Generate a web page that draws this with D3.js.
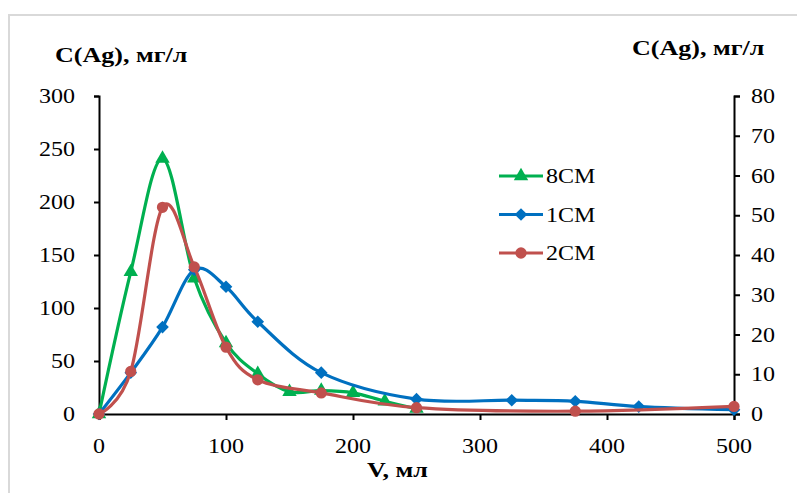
<!DOCTYPE html>
<html>
<head>
<meta charset="utf-8">
<script src="https://cdn.jsdelivr.net/npm/d3@7"></script>
<style>
  body { margin: 0; background: #fff; }
  text { font-family: "Liberation Serif", "Times New Roman", serif; fill: #000; }
</style>
</head>
<body>
<div class="graph-container"></div>
<script>
// data
var v8 = [0, 25, 50, 75, 100, 125, 150, 175, 200, 225, 250];
var c8 = [0, 134, 241, 128, 67, 38, 21, 22, 20, 12, 5];

var v1 = [0, 25, 50, 75, 100, 125, 175, 250, 325, 375, 425, 500];
var c1 = [0, 39, 82, 136, 120, 87, 39, 14, 13, 12, 7, 4];

// 2CM is on the secondary (right) axis
var v2 = [0, 25, 50, 75, 100, 125, 175, 250, 375, 500];
var c2 = [0, 10.7, 52, 37, 16.8, 8.6, 5.3, 1.6, 0.7, 1.9];

var xTicks = [0, 100, 200, 300, 400, 500];
var yLeftTicks = [0, 50, 100, 150, 200, 250, 300];
var yRightTicks = [0, 10, 20, 30, 40, 50, 60, 70, 80];

var legendNames = ["8CM", "1CM", "2CM"];

window.addEventListener("load", function(){
  var W = 797, H = 493;

  var svg = d3.select(".graph-container").append("svg")
    .attr("width", W)
    .attr("height", H);

  // outer frame, runs off the right and bottom edge
  svg.append("rect")
    .attr("x", 9).attr("y", 15)
    .attr("width", W).attr("height", H)
    .attr("fill", "none")
    .attr("stroke", "#d9d9d9")
    .attr("stroke-width", 2);

  var x = d3.scaleLinear().domain([0, 500]).range([99, 734]);
  var yL = d3.scaleLinear().domain([0, 300]).range([414, 96]);
  var yR = d3.scaleLinear().domain([0, 80]).range([414, 96]);

  // text in the picture is a bit wide, so stretch it
  function wideText(g, px, py, str, anchor, size, weight, sx) {
    return g.append("text")
      .attr("transform", "translate(" + px + "," + py + ") scale(" + (sx || 1.2) + ",1)")
      .attr("text-anchor", anchor)
      .attr("font-size", size)
      .attr("font-weight", weight || "normal")
      .text(str);
  }

  // axes
  var axisG = svg.append("g");

  var xAxis = axisG.append("g")
    .attr("transform", "translate(0," + yL(0) + ")")
    .call(d3.axisBottom(x).tickValues(xTicks).tickSize(6).tickFormat(""));
  var yAxisL = axisG.append("g")
    .attr("transform", "translate(" + x(0) + ",0)")
    .call(d3.axisLeft(yL).tickValues(yLeftTicks).tickSize(5).tickFormat(""));
  var yAxisR = axisG.append("g")
    .attr("transform", "translate(" + x(500) + ",0)")
    .call(d3.axisRight(yR).tickValues(yRightTicks).tickSize(6).tickFormat(""));

  [xAxis, yAxisL, yAxisR].forEach(function(a) {
    a.select(".domain").attr("stroke", "#000").attr("stroke-width", 2);
    a.selectAll(".tick line").attr("stroke", "#000").attr("stroke-width", 2);
  });

  xTicks.forEach(function(t) {
    wideText(svg, x(t), 453, t, "middle", 20);
  });
  yLeftTicks.forEach(function(t) {
    wideText(svg, 75, yL(t) + 7, t, "end", 20);
  });
  yRightTicks.forEach(function(t) {
    wideText(svg, 751, yR(t) + 7, t, "start", 20);
  });

  // axis titles
  wideText(svg, 55, 62, "C(Ag), мг/л", "start", 21, "bold", 1.24);
  wideText(svg, 632, 55, "C(Ag), мг/л", "start", 21, "bold", 1.24);
  wideText(svg, 367, 477, "V, мл", "start", 21, "bold", 1.24);

  // series
  var series = [
    { name: "8CM", xs: v8, ys: c8, y: yL, color: "#00b050", marker: d3.symbolTriangle, size: 90, rot: 0 },
    { name: "1CM", xs: v1, ys: c1, y: yL, color: "#0070c0", marker: d3.symbolSquare, size: 80, rot: 45 },
    { name: "2CM", xs: v2, ys: c2, y: yR, color: "#c0504d", marker: d3.symbolCircle, size: 100, rot: 0 }
  ];

  var line = d3.line().curve(d3.curveCardinal.tension(0));

  series.forEach(function(s) {
    var pts = s.xs.map(function(v, i) { return [x(v), s.y(s.ys[i])]; });
    var g = svg.append("g").attr("class", "series");
    g.append("path")
      .attr("d", line(pts))
      .attr("fill", "none")
      .attr("stroke", s.color)
      .attr("stroke-width", 3.2);
    g.selectAll("path.pt")
      .data(pts)
      .enter().append("path")
      .attr("class", "pt")
      .attr("transform", function(d) { return "translate(" + d[0] + "," + d[1] + ") rotate(" + s.rot + ")"; })
      .attr("d", d3.symbol().type(s.marker).size(s.size))
      .attr("fill", s.color);
  });

  // legend
  var legend = svg.append("g");
  legendNames.forEach(function(name, i) {
    var s = series.filter(function(d) { return d.name == name; })[0];
    var ly = 176 + i * 38.5;
    legend.append("line")
      .attr("x1", 499).attr("x2", 543)
      .attr("y1", ly).attr("y2", ly)
      .attr("stroke", s.color)
      .attr("stroke-width", 3.2);
    legend.append("path")
      .attr("transform", "translate(521," + ly + ") rotate(" + s.rot + ")")
      .attr("d", d3.symbol().type(s.marker).size(s.size))
      .attr("fill", s.color);
    wideText(legend, 546, ly + 7, name, "start", 20);
  });
});
</script>
</body>
</html>
